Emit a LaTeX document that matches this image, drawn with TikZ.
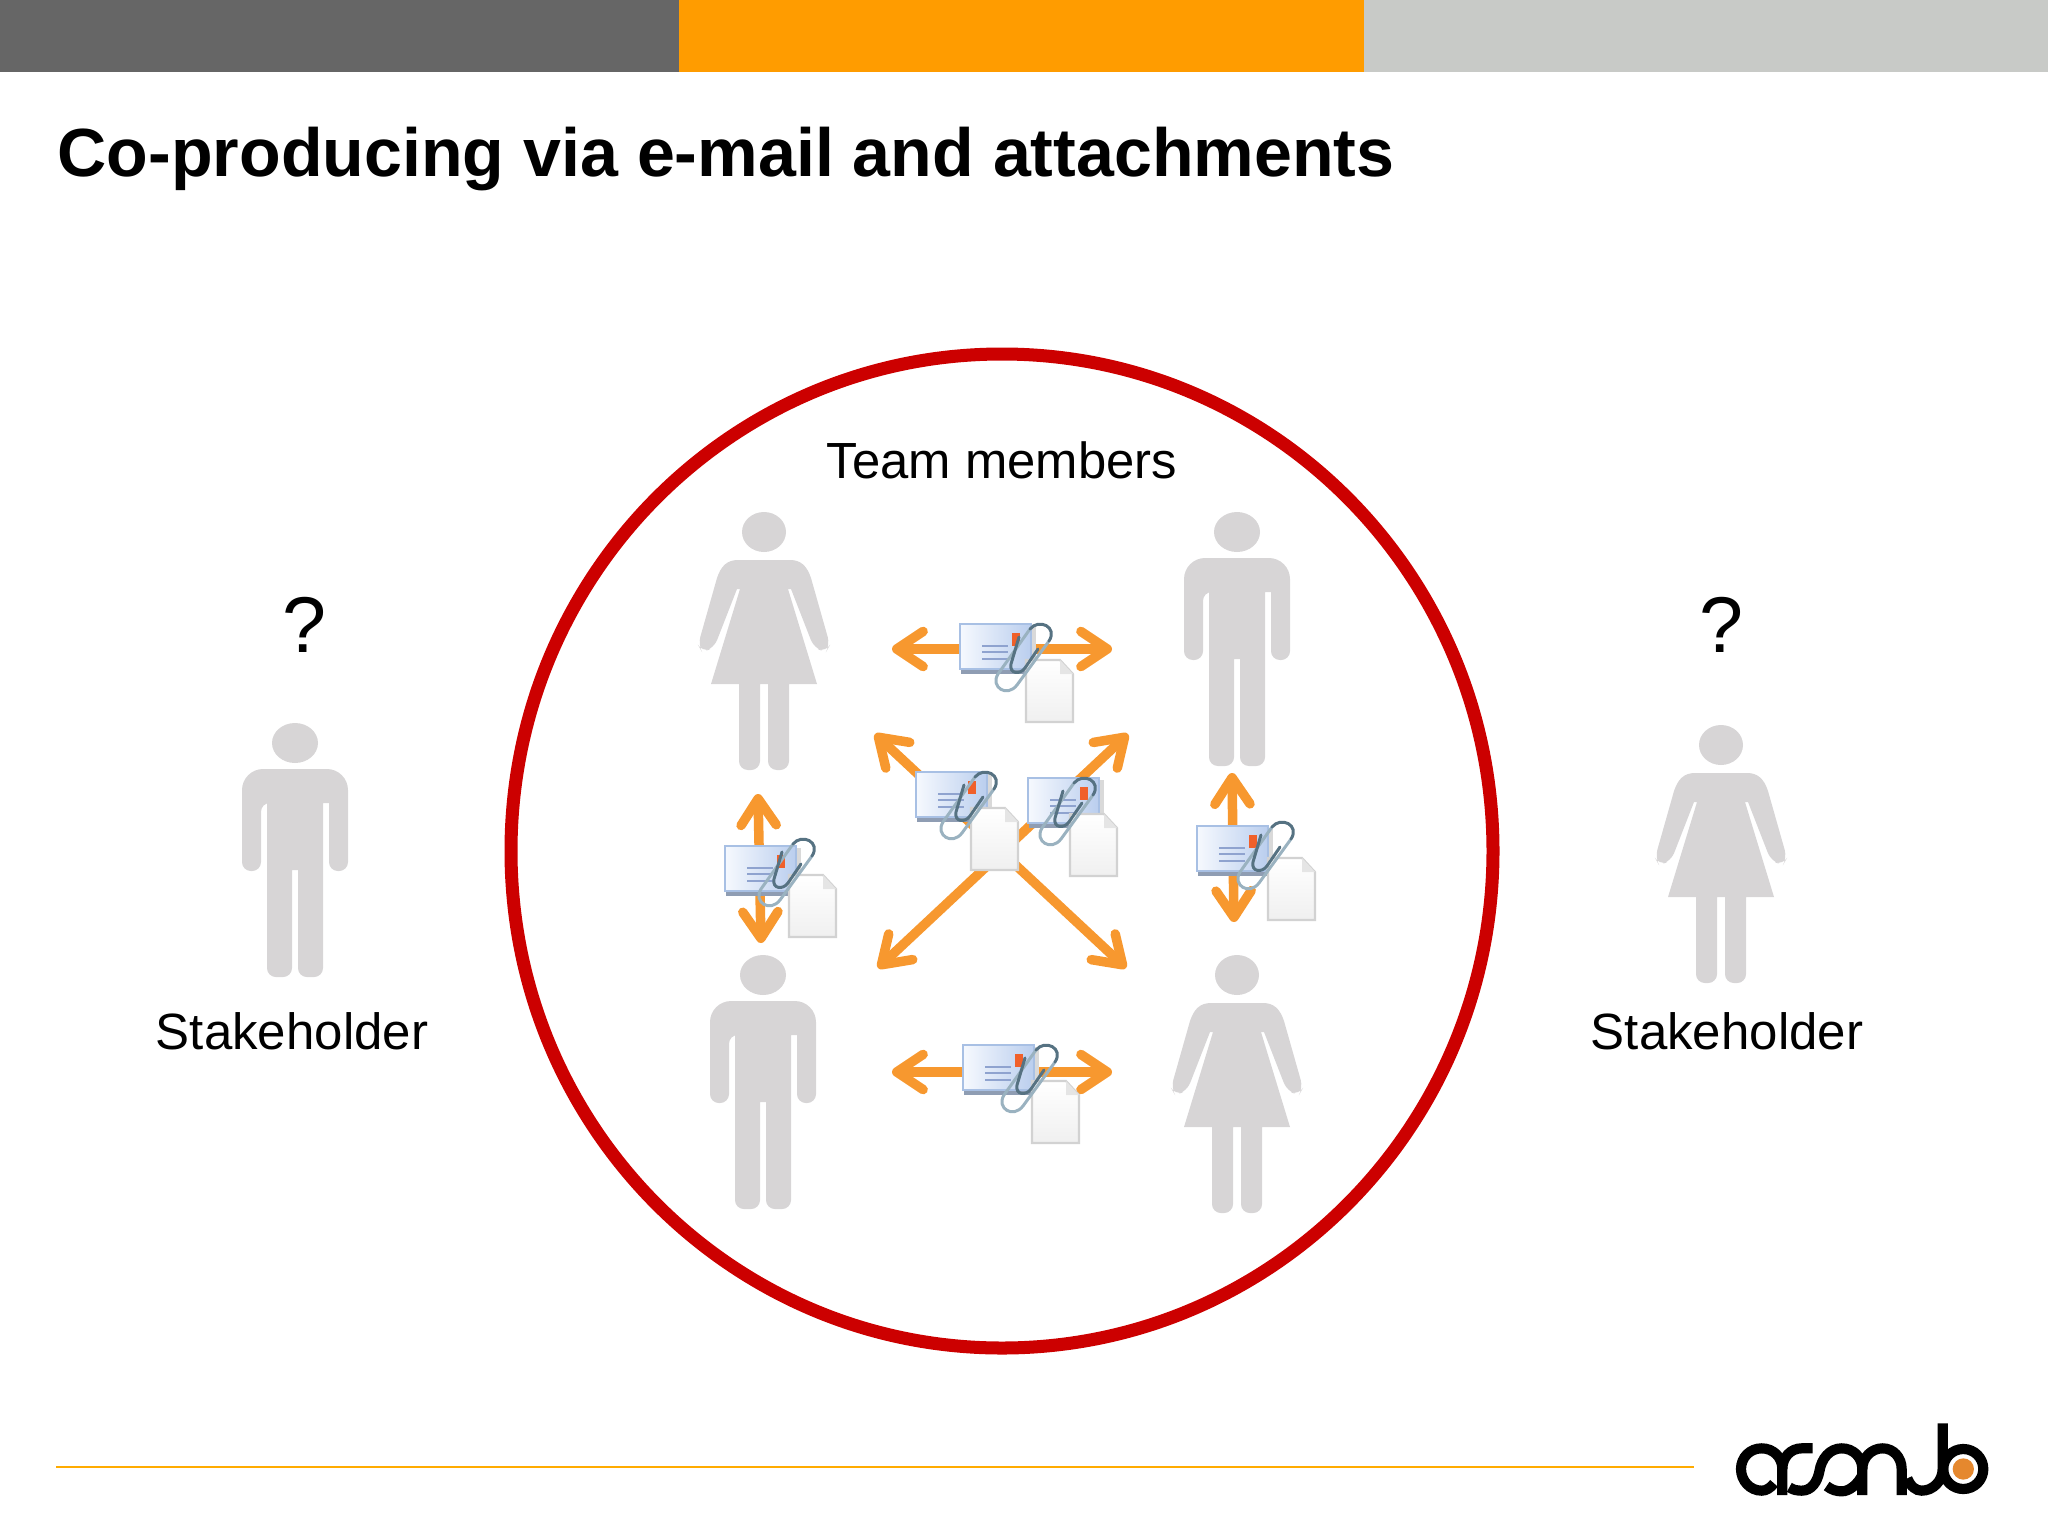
\documentclass[tikz,border=0pt]{standalone}
\usepackage{fontspec}
\setmainfont{Liberation Sans}
\usetikzlibrary{arrows.meta}

\definecolor{bardark}{HTML}{666666}
\definecolor{barorange}{HTML}{FF9C00}
\definecolor{barlight}{HTML}{C8CAC7}
\definecolor{ringred}{HTML}{CC0000}
\definecolor{personfill}{HTML}{D7D5D6}
\definecolor{arroworange}{HTML}{F7982F}
\definecolor{clipdark}{HTML}{567282}
\definecolor{cliplight}{HTML}{9AB2C0}
\definecolor{envborder}{HTML}{A8C0E4}
\definecolor{envleft}{HTML}{F6F9FE}
\definecolor{envright}{HTML}{BACEEE}
\definecolor{envshadow}{HTML}{8F9DB3}
\definecolor{envstamp}{HTML}{F0602A}
\definecolor{envline}{HTML}{8FA3CF}
\definecolor{acandodot}{HTML}{E5882E}

\tikzset{
    mailarrow/.style={draw=arroworange, line width=2.7pt, {Straight Barb[round,length=7.5pt,width=10pt]}-{Straight Barb[round,length=7.5pt,width=10pt]}},
    logostroke/.style={draw=black, line width=2.9pt},
    man/.pic={
        \fill [personfill] (0, 20) ellipse [x radius=23, y radius=20];
        \fill [personfill, rounded corners=6pt] (0, 46) -- (-53, 46) -- (-53, 90) [rounded corners=2.5pt] -- (-53, 148) -- (-34, 148) -- (-34, 80)
            [sharp corners] -- (-28, 80) [rounded corners=2.5pt] -- (-28, 254) -- (-3, 254) [sharp corners] -- (-3, 147) -- (3, 147) [rounded corners=2.5pt] -- (3, 254) -- (28, 254)
            [sharp corners] -- (28, 80) -- (34, 80) [rounded corners=2.5pt] -- (34, 148) -- (53, 148) -- (53, 90) [rounded corners=6pt] -- (53, 46) -- cycle;
    },
    woman/.pic={
        \fill [personfill] (0, 20) ellipse [x radius=22, y radius=20];
        \fill [personfill] (0, 48) -- (-26, 48) .. controls (-37, 48) and (-43, 54) .. (-47, 66) [rounded corners=2.4pt] -- (-66, 133) -- (-62, 140) -- (-50, 136) [sharp corners] -- (-27, 77) -- (-24, 77)
            -- (-53, 172) -- (-25, 172) [rounded corners=2.5pt] -- (-25, 258) -- (-4, 258) [sharp corners] -- (-4, 172) -- (4, 172) [rounded corners=2.5pt] -- (4, 258) -- (25, 258)
            [sharp corners] -- (25, 172) -- (53, 172) -- (24, 77) -- (27, 77) [rounded corners=2.4pt] -- (50, 136) -- (62, 140) -- (66, 133) [sharp corners] -- (47, 66) .. controls (43, 54) and (37, 48) .. (26, 48) -- cycle;
    },
    mailenv/.pic={
        \fill [envshadow] (1, 44) rectangle (76, 50);
        \fill [gray!30] (70, 2) rectangle (76, 47);
        \draw [draw=envborder, left color=envleft, right color=envright, line width=0.6pt] (0, 0) rectangle (71, 45);
        \fill [envstamp] (52, 9) rectangle (60, 22);
        \foreach \ypos in {22, 28, 35}
            \draw [envline, line width=0.8pt] (22, \ypos) -- (48, \ypos);
    },
    mailattach/.pic={
        \draw [draw=gray!35, top color=white, bottom color=gray!12, line width=0.6pt] (66, 36) -- (100, 36) -- (113, 50) -- (113, 98) -- (66, 98) -- cycle;
        \fill [gray!20] (100, 36) -- (113, 50) -- (100, 50) -- cycle;
        \draw [cliplight, line width=0.85pt, line cap=round] (70, 5) -- (38, 50) .. controls (30, 63) and (47, 74) .. (57, 61) -- (89, 17);
        \draw [clipdark, line width=0.85pt, line cap=round] (59, 13) -- (51, 40) .. controls (49, 50) and (60, 51) .. (65, 44) -- (78, 25);
        \draw [clipdark, line width=0.85pt, line cap=round] (89, 17) .. controls (98, 3) and (79, -6) .. (70, 5);
    },
    acandologo/.pic={
        \draw [logostroke] (222, 250) .. controls (212, 264) and (198, 272) .. (185, 272) .. controls (150, 272) and (123, 242) .. (123, 207) .. controls (123, 172) and (150, 145) .. (185, 145) .. controls (220, 145) and (247, 172) .. (247, 207) -- (247, 285);
        \draw [logostroke] (247, 207) .. controls (247, 172) and (272, 145) .. (305, 145) -- (338, 145);
        \draw [logostroke] (268, 262) .. controls (280, 270) and (292, 272) .. (305, 272) .. controls (335, 272) and (352, 245) .. (358, 215) .. controls (364, 175) and (390, 145) .. (425, 145) .. controls (460, 145) and (487, 172) .. (487, 207) -- (487, 285);
        \draw [logostroke] (380, 258) .. controls (395, 270) and (410, 274) .. (425, 274) .. controls (450, 274) and (475, 250) .. (487, 225);
        \draw [logostroke] (487, 207) .. controls (487, 172) and (515, 145) .. (548, 145) .. controls (580, 145) and (605, 172) .. (605, 207) -- (605, 285);
        \draw [logostroke] (622, 235) .. controls (632, 260) and (648, 272) .. (665, 272) .. controls (700, 272) and (728, 242) .. (728, 207) -- (728, 70);
        \draw [logostroke] (790, 207) circle [radius=60];
        \fill [acandodot] (790, 207) circle [radius=32];
    }
}

\begin{document}
\begin{tikzpicture}[x=0.01cm, y=-0.01cm]
    \useasboundingbox (0, 0) rectangle (2048, 1536);
    \fill [bardark] (0, 0) rectangle (679, 72);
    \fill [barorange] (679, 0) rectangle (1364, 72);
    \fill [barlight] (1364, 0) rectangle (2048, 72);

    \node (title) [anchor=west, inner sep=0, font=\bfseries\fontsize{19.38}{23}\selectfont] at (57, 159) {Co-producing via e-mail and attachments};

    \draw [ringred, line width=3.7pt] (1002, 851) ellipse [x radius=491, y radius=497];
    \node (team) [font=\fontsize{14.45}{17}\selectfont] at (1002, 460) {Team members};

    \pic at (295, 723) {man};
    \pic at (1721, 725) {woman};
    \pic at (764, 512) {woman};
    \pic at (1237, 512) {man};
    \pic at (763, 955) {man};
    \pic at (1237, 955) {woman};

    \node (askleft) [font=\fontsize{22.5}{27}\selectfont] at (304, 625) {?};
    \node (askright) [font=\fontsize{22.5}{27}\selectfont] at (1721, 625) {?};
    \node (stakeleft) [font=\fontsize{14.5}{17}\selectfont] at (292, 1031) {Stakeholder};
    \node (stakeright) [font=\fontsize{14.5}{17}\selectfont] at (1727, 1031) {Stakeholder};

    \coordinate (topwest) at (892, 649);
    \coordinate (topeast) at (1112, 649);
    \coordinate (lowwest) at (892, 1072);
    \coordinate (loweast) at (1112, 1072);
    \coordinate (leftup) at (758, 794);
    \coordinate (leftdown) at (761, 943);
    \coordinate (rightup) at (1232, 773);
    \coordinate (rightdown) at (1234, 922);
    \coordinate (crossnw) at (875, 734);
    \coordinate (crossse) at (1126, 968);
    \coordinate (crossne) at (1128, 734);
    \coordinate (crosssw) at (878, 968);

    \draw [mailarrow] (topwest) -- (topeast);
    \draw [mailarrow] (lowwest) -- (loweast);
    \draw [mailarrow] (leftup) -- (leftdown);
    \draw [mailarrow] (rightup) -- (rightdown);
    \draw [mailarrow] (crossnw) -- (crossse);
    \draw [mailarrow] (crossne) -- (crosssw);

    \pic at (960, 624) {mailenv};
    \pic at (960, 624) {mailattach};
    \pic at (963, 1045) {mailenv};
    \pic at (966, 1045) {mailattach};
    \pic at (725, 846) {mailenv};
    \pic at (723, 839) {mailattach};
    \pic at (1197, 826) {mailenv};
    \pic at (1202, 822) {mailattach};
    \pic at (1028, 778) {mailenv};
    \pic at (1004, 778) {mailattach};
    \pic at (916, 772) {mailenv};
    \pic at (905, 772) {mailattach};

    \draw [barorange!85!yellow, line width=0.6pt] (56, 1467) -- (1694, 1467);
    \pic [shift={(1700, 1400)}, scale=0.3333] {acandologo};
\end{tikzpicture}
\end{document}
